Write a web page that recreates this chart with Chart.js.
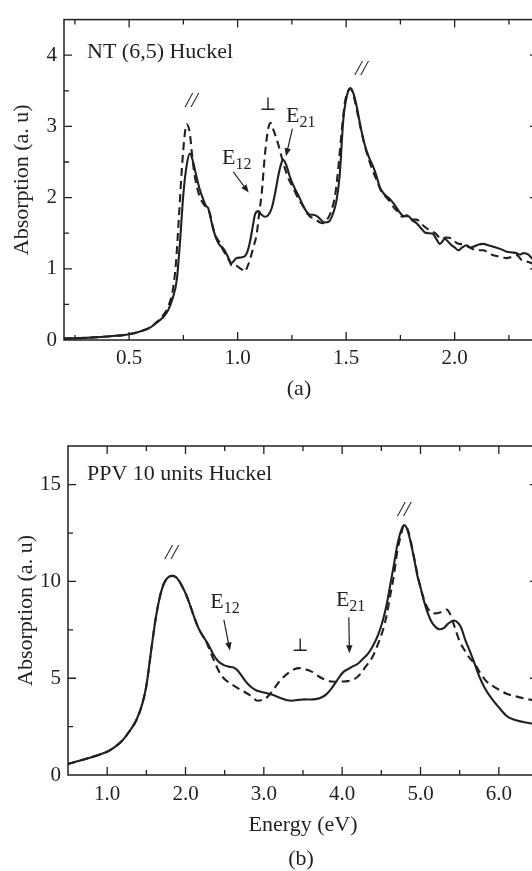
<!DOCTYPE html>
<html>
<head>
<meta charset="utf-8">
<script src="https://cdn.jsdelivr.net/npm/chart.js@4.4.1/dist/chart.umd.min.js"></script>
<style>
  html, body { margin:0; padding:0; background:#fff; overflow:hidden; width:532px; height:871px; }
  canvas { position:absolute; left:0; }
  #ca { top:0; }
  #cb { top:420px; }
</style>
</head>
<body>
<canvas id="ca" width="540" height="400"></canvas>
<canvas id="cb" width="540" height="451"></canvas>
<script>
// ---------------- DATA ----------------
// Panel (a): NT (6,5) Huckel
const energyA_solid = [0.2,0.3,0.4,0.5,0.55,0.6,0.63,0.66,0.68,0.70,0.72,0.735,0.75,0.765,0.78,0.795,0.81,0.825,0.842,0.855,0.865,0.875,0.888,0.905,0.918,0.93,0.94,0.955,0.972,0.985,0.995,1.015,1.034,1.045,1.057,1.07,1.08,1.095,1.11,1.126,1.14,1.157,1.172,1.187,1.2,1.21,1.225,1.24,1.26,1.28,1.30,1.318,1.335,1.348,1.365,1.38,1.40,1.42,1.44,1.455,1.47,1.487,1.505,1.52,1.535,1.548,1.56,1.571,1.585,1.602,1.625,1.64,1.656,1.675,1.694,1.71,1.725,1.745,1.756,1.77,1.786,1.805,1.825,1.845,1.863,1.88,1.9,1.915,1.932,1.955,1.97,1.986,2.0,2.017,2.035,2.055,2.07,2.086,2.11,2.132,2.155,2.178,2.21,2.24,2.265,2.286,2.3,2.317,2.34,2.355,2.38];
const absA_solid = [0.02,0.03,0.05,0.08,0.12,0.18,0.25,0.33,0.42,0.58,0.85,1.4,2.05,2.45,2.62,2.5,2.3,2.12,1.97,1.88,1.85,1.72,1.55,1.4,1.33,1.3,1.26,1.17,1.08,1.12,1.15,1.16,1.18,1.24,1.38,1.6,1.76,1.81,1.76,1.73,1.75,1.85,2.05,2.3,2.47,2.53,2.45,2.3,2.15,2.03,1.9,1.8,1.76,1.76,1.74,1.70,1.65,1.66,1.78,1.95,2.3,3.1,3.45,3.54,3.45,3.29,3.1,2.93,2.75,2.59,2.43,2.3,2.14,2.05,2.0,1.95,1.89,1.8,1.76,1.74,1.74,1.68,1.64,1.57,1.51,1.5,1.49,1.42,1.35,1.42,1.38,1.33,1.3,1.26,1.3,1.33,1.3,1.31,1.34,1.35,1.33,1.31,1.28,1.24,1.23,1.22,1.2,1.22,1.2,1.15,1.12];
const energyA_dashed = [0.2,0.3,0.4,0.5,0.55,0.6,0.63,0.66,0.68,0.70,0.715,0.73,0.743,0.755,0.765,0.78,0.79,0.80,0.815,0.83,0.845,0.86,0.872,0.885,0.9,0.915,0.93,0.945,0.96,0.975,0.99,1.005,1.02,1.034,1.045,1.057,1.072,1.088,1.10,1.11,1.126,1.141,1.152,1.165,1.187,1.20,1.218,1.237,1.256,1.28,1.30,1.32,1.335,1.35,1.365,1.38,1.395,1.41,1.43,1.45,1.465,1.48,1.495,1.51,1.52,1.535,1.55,1.565,1.58,1.6,1.62,1.64,1.66,1.68,1.70,1.72,1.74,1.76,1.78,1.80,1.825,1.85,1.88,1.91,1.94,1.96,1.99,2.01,2.04,2.07,2.10,2.13,2.16,2.178,2.21,2.24,2.265,2.286,2.31,2.335,2.355,2.38];
const absA_dashed = [0.02,0.03,0.05,0.08,0.12,0.18,0.26,0.36,0.47,0.68,1.05,1.75,2.4,2.85,3.03,2.9,2.6,2.35,2.12,1.98,1.9,1.85,1.78,1.6,1.45,1.38,1.28,1.2,1.12,1.04,1.05,1.02,0.99,0.96,1.03,1.13,1.3,1.49,1.8,2.03,2.61,2.97,3.05,2.95,2.75,2.6,2.41,2.25,2.14,1.98,1.89,1.78,1.73,1.71,1.68,1.65,1.64,1.68,1.8,2.05,2.45,2.95,3.35,3.5,3.53,3.42,3.22,3.0,2.8,2.58,2.4,2.25,2.1,2.02,1.95,1.86,1.8,1.73,1.75,1.69,1.69,1.62,1.55,1.5,1.42,1.44,1.42,1.36,1.34,1.3,1.26,1.26,1.22,1.19,1.17,1.15,1.17,1.19,1.12,1.1,1.08,1.07];
const xTicksA = [0.5, 1.0, 1.5, 2.0];
const yTicksA = [0, 1, 2, 3, 4];

// Panel (b): PPV 10 units Huckel
const energyB_solid = [0.5,0.7,0.9,1.0,1.1,1.2,1.3,1.373,1.45,1.5,1.577,1.62,1.664,1.71,1.75,1.79,1.837,1.88,1.92,1.96,2.01,2.06,2.12,2.17,2.227,2.27,2.31,2.36,2.42,2.49,2.55,2.617,2.66,2.70,2.76,2.83,2.9,2.96,3.03,3.09,3.15,3.22,3.3,3.35,3.44,3.53,3.6,3.66,3.72,3.79,3.85,3.92,3.97,4.02,4.08,4.13,4.2,4.26,4.33,4.39,4.46,4.52,4.57,4.61,4.66,4.70,4.75,4.79,4.83,4.87,4.92,4.96,5.0,5.04,5.09,5.13,5.18,5.24,5.3,5.35,5.43,5.48,5.52,5.57,5.63,5.69,5.75,5.82,5.9,6.01,6.1,6.2,6.3,6.4,6.5];
const absB_solid = [0.57,0.8,1.05,1.2,1.45,1.81,2.35,2.84,3.7,4.6,6.9,8.1,9.05,9.75,10.08,10.25,10.29,10.22,10.02,9.72,9.3,8.75,8.05,7.55,7.15,6.88,6.6,6.2,5.86,5.68,5.6,5.55,5.42,5.22,4.88,4.57,4.38,4.3,4.24,4.17,4.08,3.97,3.86,3.84,3.88,3.91,3.9,3.92,3.98,4.14,4.4,4.8,5.1,5.34,5.48,5.6,5.75,5.98,6.27,6.65,7.25,8.0,8.85,9.74,10.85,11.8,12.6,12.92,12.7,12.1,11.15,10.3,9.7,9.05,8.4,8.0,7.7,7.53,7.6,7.81,7.98,7.85,7.6,7.0,6.4,5.77,5.1,4.5,4.0,3.45,3.05,2.85,2.75,2.67,2.6];
const energyB_dashed = [0.5,0.7,0.9,1.0,1.1,1.2,1.3,1.373,1.45,1.5,1.577,1.62,1.664,1.71,1.75,1.79,1.837,1.88,1.92,1.96,2.01,2.06,2.12,2.17,2.227,2.27,2.31,2.36,2.44,2.5,2.57,2.66,2.75,2.83,2.92,2.98,3.05,3.12,3.18,3.25,3.31,3.38,3.46,3.54,3.61,3.68,3.74,3.8,3.87,3.94,4.0,4.07,4.13,4.19,4.24,4.3,4.39,4.46,4.52,4.57,4.61,4.66,4.70,4.75,4.79,4.83,4.87,4.92,4.97,5.02,5.07,5.12,5.18,5.25,5.33,5.38,5.44,5.5,5.57,5.63,5.69,5.75,5.84,5.92,6.01,6.1,6.23,6.35,6.42,6.5];
const absB_dashed = [0.57,0.8,1.05,1.2,1.45,1.81,2.35,2.84,3.7,4.6,6.9,8.1,9.05,9.75,10.08,10.25,10.29,10.22,10.02,9.72,9.3,8.75,8.05,7.55,7.15,6.85,6.45,5.95,5.26,4.95,4.74,4.5,4.3,4.1,3.84,3.88,4.05,4.4,4.74,5.05,5.26,5.45,5.52,5.45,5.34,5.15,5.0,4.9,4.83,4.82,4.83,4.85,4.91,5.05,5.26,5.6,6.12,6.8,7.48,8.3,9.2,10.3,11.46,12.4,12.9,12.75,12.2,11.2,10.2,9.4,8.8,8.45,8.35,8.4,8.55,8.3,7.6,6.9,6.4,6.03,5.77,5.35,4.85,4.6,4.39,4.2,4.05,3.93,3.88,3.82];
const xTicksB = [1.0, 2.0, 3.0, 4.0, 5.0, 6.0];
const yTicksB = [0, 5, 10, 15];

// ---------------- STYLE / HELPERS ----------------
const INK = '#231f20';
const SERIF = '"Liberation Serif", "Times New Roman", "DejaVu Serif", serif';
const pts = (xs, ys) => xs.map((x, i) => ({x, y: ys[i]}));

const decor = {
  id: 'decor',
  afterDraw(chart, args, o) {
    const {ctx, chartArea: ca, scales} = chart;
    const X = scales.x, Y = scales.y;
    ctx.save();
    ctx.strokeStyle = INK; ctx.fillStyle = INK; ctx.lineWidth = 1.5;
    ctx.strokeRect(ca.left, ca.top, ca.right - ca.left, ca.bottom - ca.top);
    // inward ticks on all four sides
    const steps = (min, max, step) => { const r = []; for (let k = Math.ceil(min/step - 1e-9); k*step <= max + 1e-9; k++) r.push(k*step); return r; };
    const isMajor = (v, m) => Math.abs(v/m - Math.round(v/m)) < 1e-6;
    ctx.lineWidth = 1.3;
    ctx.beginPath();
    steps(X.min, X.max, o.xMinor).forEach(v => {
      const p = X.getPixelForValue(v); const L = isMajor(v, o.xMajor) ? 8 : 5;
      if (p <= ca.left + 1 || p >= ca.right - 1) return;
      ctx.moveTo(p, ca.bottom); ctx.lineTo(p, ca.bottom - L);
      ctx.moveTo(p, ca.top); ctx.lineTo(p, ca.top + L);
    });
    steps(Y.min, Y.max, o.yMinor).forEach(v => {
      const p = Y.getPixelForValue(v); const L = isMajor(v, o.yMajor) ? 8 : 5;
      if (p >= ca.bottom - 1 || p <= ca.top + 1) return;
      ctx.moveTo(ca.left, p); ctx.lineTo(ca.left + L, p);
      ctx.moveTo(ca.right, p); ctx.lineTo(ca.right - L, p);
    });
    ctx.stroke();
    // panel title inside
    ctx.font = '22px ' + SERIF; ctx.textAlign = 'left'; ctx.textBaseline = 'alphabetic';
    ctx.fillText(o.title, ca.left + o.titleDx, ca.top + o.titleDy);
    // caption (a)/(b)
    ctx.textAlign = 'center'; ctx.textBaseline = 'middle';
    ctx.fillText(o.caption, (ca.left + ca.right) / 2 - 2, o.captionY);
    // annotations
    o.notes.forEach(n => {
      if (n.kind === 'text') {
        ctx.font = n.font; ctx.textAlign = 'center'; ctx.textBaseline = 'middle';
        ctx.fillText(n.text, X.getPixelForValue(n.x), Y.getPixelForValue(n.y));
      } else if (n.kind === 'sub') {
        const px = X.getPixelForValue(n.x), py = Y.getPixelForValue(n.y);
        ctx.textAlign = 'left'; ctx.textBaseline = 'alphabetic';
        ctx.font = '22px ' + SERIF; ctx.fillText(n.main, px, py);
        const w = ctx.measureText(n.main).width;
        ctx.font = '16px ' + SERIF; ctx.fillText(n.sub, px + w, py + 5);
      } else if (n.kind === 'arrow') {
        const x1 = X.getPixelForValue(n.x1), y1 = Y.getPixelForValue(n.y1);
        const x2 = X.getPixelForValue(n.x2), y2 = Y.getPixelForValue(n.y2);
        const a = Math.atan2(y2 - y1, x2 - x1), H = 8, W = 3.2;
        ctx.lineWidth = 1.2;
        ctx.beginPath(); ctx.moveTo(x1, y1);
        ctx.lineTo(x2 - Math.cos(a) * H * 0.8, y2 - Math.sin(a) * H * 0.8); ctx.stroke();
        ctx.beginPath(); ctx.moveTo(x2, y2);
        ctx.lineTo(x2 - Math.cos(a) * H - Math.sin(a) * W, y2 - Math.sin(a) * H + Math.cos(a) * W);
        ctx.lineTo(x2 - Math.cos(a) * H + Math.sin(a) * W, y2 - Math.sin(a) * H - Math.cos(a) * W);
        ctx.closePath(); ctx.fill();
      }
    });
    ctx.restore();
  }
};

function makeChart(id, cfg) {
  const tickFont = {family: SERIF, size: 21};
  const titleFont = {family: SERIF, size: 22};
  return new Chart(document.getElementById(id), {
    type: 'line',
    data: {
      datasets: [
        {data: pts(cfg.xs1, cfg.ys1), borderColor: INK, borderWidth: 2.1, pointRadius: 0, cubicInterpolationMode: 'monotone', fill: false},
        {data: pts(cfg.xs2, cfg.ys2), borderColor: INK, borderWidth: 2.1, borderDash: [8, 5], pointRadius: 0, cubicInterpolationMode: 'monotone', fill: false}
      ]
    },
    options: {
      responsive: false, animation: false, devicePixelRatio: 1,
      layout: {padding: {top: cfg.padTop, right: 2, left: 0, bottom: 0}},
      plugins: {legend: {display: false}, tooltip: {enabled: false}, decor: cfg.decor},
      scales: {
        x: {
          type: 'linear', min: cfg.xMin, max: cfg.xMax,
          grid: {display: false, drawTicks: false}, border: {display: false},
          afterBuildTicks: s => { s.ticks = cfg.xTicks.map(v => ({value: v})); },
          afterFit: s => { s.height = cfg.xHeight; },
          ticks: {font: tickFont, color: INK, padding: cfg.xPad, autoSkip: false, maxRotation: 0, callback: v => Number(v).toFixed(1)},
          title: cfg.xTitle ? {display: true, text: cfg.xTitle, font: titleFont, color: INK, padding: {top: 0, bottom: cfg.xTitlePad}} : {display: false}
        },
        y: {
          type: 'linear', min: 0, max: cfg.yMax,
          grid: {display: false, drawTicks: false}, border: {display: false},
          afterBuildTicks: s => { s.ticks = cfg.yTicks.map(v => ({value: v})); },
          afterFit: s => { s.width = cfg.yWidth; },
          ticks: {font: tickFont, color: INK, padding: 7, autoSkip: false, callback: v => String(v)},
          title: {display: true, text: 'Absorption (a. u)', font: titleFont, color: INK, padding: {top: cfg.yTitlePad, bottom: 0}}
        }
      }
    },
    plugins: [decor]
  });
}

makeChart('ca', {
  xs1: energyA_solid, ys1: absA_solid, xs2: energyA_dashed, ys2: absA_dashed,
  xMin: 0.2, xMax: 2.384, yMax: 4.5, xTicks: xTicksA, yTicks: yTicksA,
  padTop: 6, xHeight: 60, yWidth: 64, xPad: 6, yTitlePad: 9,
  decor: {
    xMinor: 0.25, xMajor: 0.5, yMinor: 0.5, yMajor: 1,
    title: 'NT (6,5) Huckel', titleDx: 23, titleDy: 38,
    caption: '(a)', captionY: 389,
    notes: [
      {kind: 'text', text: '//', x: 0.788, y: 3.35, font: 'italic 22px ' + SERIF},
      {kind: 'text', text: '//', x: 1.57, y: 3.8, font: 'italic 22px ' + SERIF},
      {kind: 'text', text: '\u22A5', x: 1.14, y: 3.30, font: '18px "DejaVu Serif", ' + SERIF},
      {kind: 'sub', main: 'E', sub: '12', x: 0.928, y: 2.47},
      {kind: 'sub', main: 'E', sub: '21', x: 1.223, y: 3.055},
      {kind: 'arrow', x1: 0.98, y1: 2.36, x2: 1.051, y2: 2.07},
      {kind: 'arrow', x1: 1.2525, y1: 2.97, x2: 1.2226, y2: 2.58}
    ]
  }
});

makeChart('cb', {
  xs1: energyB_solid, ys1: absB_solid, xs2: energyB_dashed, ys2: absB_dashed,
  xMin: 0.5, xMax: 6.5, yMax: 17, xTicks: xTicksB, yTicks: yTicksB,
  padTop: 26, xHeight: 96, yWidth: 68, xPad: 7, yTitlePad: 13, xTitle: 'Energy (eV)', xTitlePad: 33,
  decor: {
    xMinor: 0.5, xMajor: 1, yMinor: 2.5, yMajor: 5,
    title: 'PPV 10 units Huckel', titleDx: 19, titleDy: 34,
    caption: '(b)', captionY: 439,
    notes: [
      {kind: 'text', text: '//', x: 1.82, y: 11.46, font: 'italic 22px ' + SERIF},
      {kind: 'text', text: '//', x: 4.79, y: 13.7, font: 'italic 22px ' + SERIF},
      {kind: 'text', text: '\u22A5', x: 3.465, y: 6.63, font: '18px "DejaVu Serif", ' + SERIF},
      {kind: 'sub', main: 'E', sub: '12', x: 2.317, y: 8.61},
      {kind: 'sub', main: 'E', sub: '21', x: 3.92, y: 8.73},
      {kind: 'arrow', x1: 2.49, y1: 8.01, x2: 2.568, y2: 6.43},
      {kind: 'arrow', x1: 4.085, y1: 8.15, x2: 4.093, y2: 6.29}
    ]
  }
});
</script>
</body>
</html>
